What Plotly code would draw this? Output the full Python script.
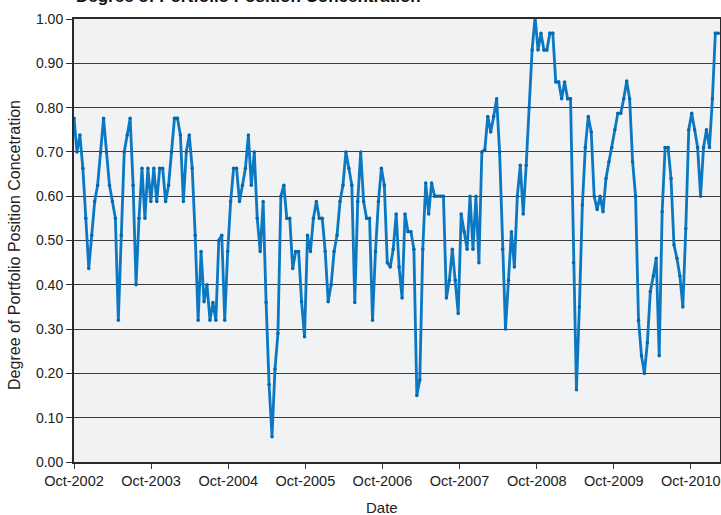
import plotly.graph_objects as go
import pandas as pd

# Bi-weekly observations starting Oct-2002
start_date = "2002-10-01"
concentration = [
    # Oct-2002 .. Feb-2004
    0.776, 0.70, 0.738, 0.663, 0.55, 0.437, 0.512, 0.588, 0.625, 0.70,
    0.776, 0.70, 0.625, 0.588, 0.55, 0.32, 0.512, 0.70, 0.738, 0.776,
    0.625, 0.40, 0.55, 0.663, 0.55, 0.663, 0.588, 0.663, 0.588, 0.663,
    0.663, 0.588, 0.625, 0.70, 0.776, 0.776,
    # Feb-2004 .. Mar-2005
    0.738, 0.588, 0.70, 0.738, 0.663, 0.512, 0.32, 0.475, 0.362, 0.40,
    0.32, 0.36, 0.32, 0.50, 0.512, 0.32, 0.475, 0.588, 0.663, 0.663,
    0.588, 0.625, 0.663, 0.738, 0.625, 0.70, 0.55, 0.475, 0.588, 0.36,
    0.175, 0.057, 0.21, 0.29, 0.60,
    # Mar-2005 .. Apr-2006
    0.625, 0.55, 0.55, 0.437, 0.475, 0.475, 0.362, 0.283, 0.512, 0.475,
    0.55, 0.588, 0.55, 0.55, 0.475, 0.362, 0.40, 0.475, 0.512, 0.588,
    0.625, 0.70, 0.663, 0.625, 0.36, 0.588, 0.70, 0.588, 0.55, 0.55,
    0.32, 0.475, 0.588, 0.663, 0.625, 0.45,
    # Apr-2006 .. Jun-2007
    0.44, 0.48, 0.56, 0.44, 0.37, 0.56, 0.52, 0.52, 0.48, 0.15,
    0.185, 0.48, 0.63, 0.56, 0.63, 0.60, 0.60, 0.60, 0.60, 0.37,
    0.41, 0.48, 0.41, 0.335, 0.56, 0.52, 0.48, 0.60, 0.48, 0.60,
    0.45, 0.70, 0.705, 0.78, 0.745,
    # Jun-2007 .. Aug-2009
    0.78, 0.82, 0.70, 0.48, 0.30, 0.41, 0.52, 0.44, 0.60, 0.67,
    0.56, 0.67, 0.80, 0.93, 1.005, 0.93, 0.968, 0.93, 0.93, 0.968,
    0.968, 0.858, 0.858, 0.82, 0.858, 0.82, 0.82, 0.45, 0.163, 0.35,
    0.58, 0.71, 0.78, 0.745, 0.60, 0.57,
    # Aug-2009 .. Feb-2011
    0.60, 0.565, 0.64, 0.678, 0.71, 0.75, 0.787, 0.787, 0.82, 0.86,
    0.82, 0.678, 0.60, 0.32, 0.24, 0.20, 0.27, 0.385, 0.42, 0.46,
    0.24, 0.565, 0.71, 0.71, 0.64, 0.49, 0.46, 0.42, 0.35, 0.527,
    0.75, 0.787, 0.75, 0.71, 0.60, 0.71, 0.75, 0.71, 0.82, 0.968,
    0.968,
]
tick_dates = ["2002-10-01", "2003-10-01", "2004-10-01", "2005-10-01", "2006-10-01",
              "2007-10-01", "2008-10-01", "2009-10-01", "2010-10-01"]
tick_labels = ["Oct-2002", "Oct-2003", "Oct-2004", "Oct-2005", "Oct-2006",
               "Oct-2007", "Oct-2008", "Oct-2009", "Oct-2010"]
y_ticks = [0.0, 0.1, 0.2, 0.3, 0.4, 0.5, 0.6, 0.7, 0.8, 0.9, 1.0]

dates = pd.date_range(start_date, periods=len(concentration), freq="14D")

FONT = "Liberation Sans, Arial, sans-serif"
LINE = "#0a78c2"

fig = go.Figure()
fig.add_trace(go.Scatter(
    x=dates, y=concentration, mode="lines+markers",
    line=dict(color=LINE, width=2.8),
    marker=dict(color="#0867a8", size=3.5),
    cliponaxis=False, showlegend=False,
))

fig.update_layout(
    width=721, height=515,
    margin=dict(l=74, r=1, t=19, b=53, autoexpand=False),
    paper_bgcolor="white", plot_bgcolor="#f1f2f4",
    font=dict(family=FONT, size=14, color="#222222"),
    xaxis=dict(
        type="date", range=["2002-10-01", "2011-02-16"], automargin=False,
        tickmode="array", tickvals=tick_dates, ticktext=tick_labels,
        ticks="outside", ticklen=5, tickcolor="#333333", tickwidth=1,
        showgrid=False, showline=True, linecolor="#2a2a2a", linewidth=2, mirror=True,
        tickfont=dict(family=FONT, size=14.5, color="#222222"),
        zeroline=False,
    ),
    yaxis=dict(
        range=[0, 1], tickmode="array", tickvals=y_ticks, automargin=False,
        tickformat=".2f",
        ticks="outside", ticklen=6, tickcolor="#333333", tickwidth=1,
        showgrid=True, gridcolor="#3c3c3c", gridwidth=1,
        showline=True, linecolor="#2a2a2a", linewidth=2, mirror=True,
        tickfont=dict(family=FONT, size=14, color="#222222"),
        zeroline=False,
    ),
    annotations=[
        dict(text="Degree of Portfolio Position Concentration", xref="paper", yref="paper",
             x=0.0, y=1.050, xanchor="left", yanchor="middle", showarrow=False,
             font=dict(family=FONT, size=17, color="#111111", weight="bold")),
        dict(text="Date", xref="paper", yref="paper", x=0.477, y=-0.103,
             xanchor="center", yanchor="middle", showarrow=False,
             font=dict(family=FONT, size=15, color="#222222")),
        dict(text="Degree of Portfolio Position Concetration", xref="paper", yref="paper",
             x=-0.0913, y=0.49, xanchor="center", yanchor="middle", textangle=-90,
             showarrow=False, font=dict(family=FONT, size=16, color="#222222")),
    ],
)

fig.write_html("out.html", config={"displayModeBar": False},
               post_script="document.body.style.margin='0';document.body.style.overflow='hidden';")
